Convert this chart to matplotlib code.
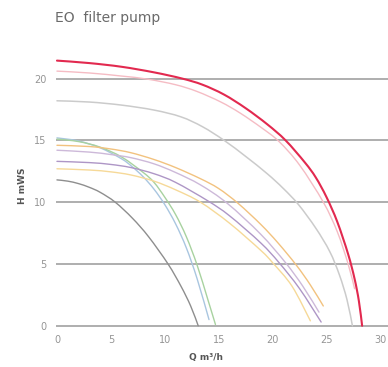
import matplotlib
matplotlib.use("Agg")
import matplotlib.pyplot as plt
from matplotlib.path import Path
from matplotlib.patches import PathPatch

# Pump curves: flow Q (m3/h) and head H (mWS)
red_q = [0, 3, 6, 9, 11.6, 13.5, 15.5, 17.5, 19.5, 21.2, 23, 24, 25, 26, 27, 27.6, 28.0, 28.3]
red_h = [21.45, 21.25, 20.95, 20.5, 20.0, 19.5, 18.7, 17.6, 16.3, 15.0, 13.2, 12.0, 10.4, 8.4, 5.8, 3.8, 2.0, 0.0]

pink_q = [0, 3, 6, 8.4, 11, 13, 15.2, 17, 19, 20.6, 22.5, 24.7, 26, 27, 27.6]
pink_h = [20.6, 20.45, 20.2, 19.95, 19.5, 18.95, 18.1, 17.2, 16.0, 14.9, 13.0, 10.0, 7.6, 5.0, 3.0]

lgray_q = [0, 3, 6, 9, 11.5, 13.5, 15.5, 17.5, 19.5, 21, 22.4, 24, 25.3, 26.2, 26.9, 27.4]
lgray_h = [18.2, 18.1, 17.85, 17.45, 16.9, 16.1, 15.0, 13.7, 12.3, 11.1, 9.8, 7.9, 6.0, 4.1, 2.1, 0.0]

orange_q = [0, 3, 5, 6.85, 9, 11, 13.3, 15, 16.8, 18.9, 20.5, 22.2, 23.5, 24.7]
orange_h = [14.6, 14.5, 14.3, 14.0, 13.45, 12.8, 11.9, 11.1, 9.9, 8.2, 6.7, 4.9, 3.3, 1.6]

lav_q = [0, 3, 5, 6.85, 9, 11, 13.3, 15.8, 18.9, 21.2, 22.8, 24.3]
lav_h = [14.2, 14.05, 13.85, 13.6, 13.1, 12.4, 11.4, 9.9, 7.4, 5.1, 3.2, 1.1]

purple_q = [0, 3, 5, 6.85, 9, 11, 14, 16, 18.9, 20.6, 22.5, 24.5]
purple_h = [13.3, 13.2, 13.05, 12.8, 12.3, 11.6, 10.1, 8.9, 6.7, 5.1, 3.0, 0.3]

yellow_q = [0, 3, 5, 6.85, 9, 11, 13.3, 16, 18.9, 20.0, 21.8, 23.5]
yellow_h = [12.7, 12.6, 12.45, 12.2, 11.7, 11.0, 10.0, 8.3, 6.1, 5.1, 3.2, 0.4]

blue_q = [0, 2, 4, 6, 7, 8, 9, 10, 11, 12, 13, 14.1]
blue_h = [15.2, 14.95, 14.4, 13.5, 12.85, 12.05, 11.05, 9.8, 8.25, 6.3, 3.8, 0.5]

green_q = [0, 2, 4, 6, 8, 9, 10, 11, 12, 13, 14, 14.7]
green_h = [15.1, 14.9, 14.45, 13.65, 12.4, 11.6, 10.4, 9.0, 7.2, 4.9, 2.1, 0.1]

dgray_q = [0, 1, 2, 3, 4, 5.4, 7, 8.5, 10.3, 11.5, 12.4, 13.1]
dgray_h = [11.8, 11.7, 11.5, 11.2, 10.8, 10.0, 8.7, 7.2, 5.0, 3.2, 1.6, 0.0]

x_ticks = [0, 5, 10, 15, 20, 25, 30]
y_ticks = [0, 5, 10, 15, 20]


def smooth_path(q, h):
    """Catmull-Rom curve through the data points, drawn as cubic Bezier segments."""
    pts = list(zip(q, h))
    verts = [pts[0]]
    codes = [Path.MOVETO]
    n = len(pts)
    for i in range(n - 1):
        p0 = pts[i - 1] if i > 0 else pts[i]
        p1 = pts[i]
        p2 = pts[i + 1]
        p3 = pts[i + 2] if i + 2 < n else pts[i + 1]
        c1 = (p1[0] + (p2[0] - p0[0]) / 6.0, p1[1] + (p2[1] - p0[1]) / 6.0)
        c2 = (p2[0] - (p3[0] - p1[0]) / 6.0, p2[1] - (p3[1] - p1[1]) / 6.0)
        verts += [c1, c2, p2]
        codes += [Path.CURVE4] * 3
    return Path(verts, codes)


fig = plt.figure(figsize=(3.88, 3.67), dpi=100)
ax = fig.add_axes([0.144, 0.109, 0.856, 0.741])

for y in y_ticks:
    ax.axhline(y, color="#a8a8a8", lw=1.3, zorder=1)

series = [
    (dgray_q, dgray_h, "#8e8e8e", 1.0),
    (blue_q, blue_h, "#a9c6e0", 1.0),
    (green_q, green_h, "#a8d2a0", 1.0),
    (yellow_q, yellow_h, "#f6d998", 1.0),
    (purple_q, purple_h, "#ae96c6", 1.0),
    (lav_q, lav_h, "#cdb9d9", 1.0),
    (orange_q, orange_h, "#f2c27f", 1.0),
    (lgray_q, lgray_h, "#cbcbcb", 1.1),
    (pink_q, pink_h, "#f5bcc4", 1.0),
    (red_q, red_h, "#e2294f", 1.5),
]
for q, h, c, lw in series:
    patch = PathPatch(smooth_path(q, h), facecolor="none", edgecolor=c, lw=lw,
                      zorder=2, capstyle="round", transform=ax.transData)
    ax.add_patch(patch)

ax.set_xlim(-0.1, 30.7)
ax.set_ylim(-0.1, 21.9)
ax.set_xticks(x_ticks)
ax.set_yticks(y_ticks)
ax.tick_params(length=0, labelsize=7, labelcolor="#959595")
ax.tick_params(axis="x", pad=6)
ax.tick_params(axis="y", pad=7)
for s in ax.spines.values():
    s.set_visible(False)

fig.text(0.53, 0.027, "Q m\u00b3/h", fontsize=6.5, color="#555555", ha="center", va="center", fontweight="bold")
fig.text(0.057, 0.495, "H mWS", fontsize=6.5, color="#555555", ha="center", va="center", rotation=90, fontweight="bold")
fig.text(0.142, 0.95, "EO  filter pump", fontsize=10, color="#6a6a6a", ha="left", va="center")

fig.savefig("out.png", dpi=100)
